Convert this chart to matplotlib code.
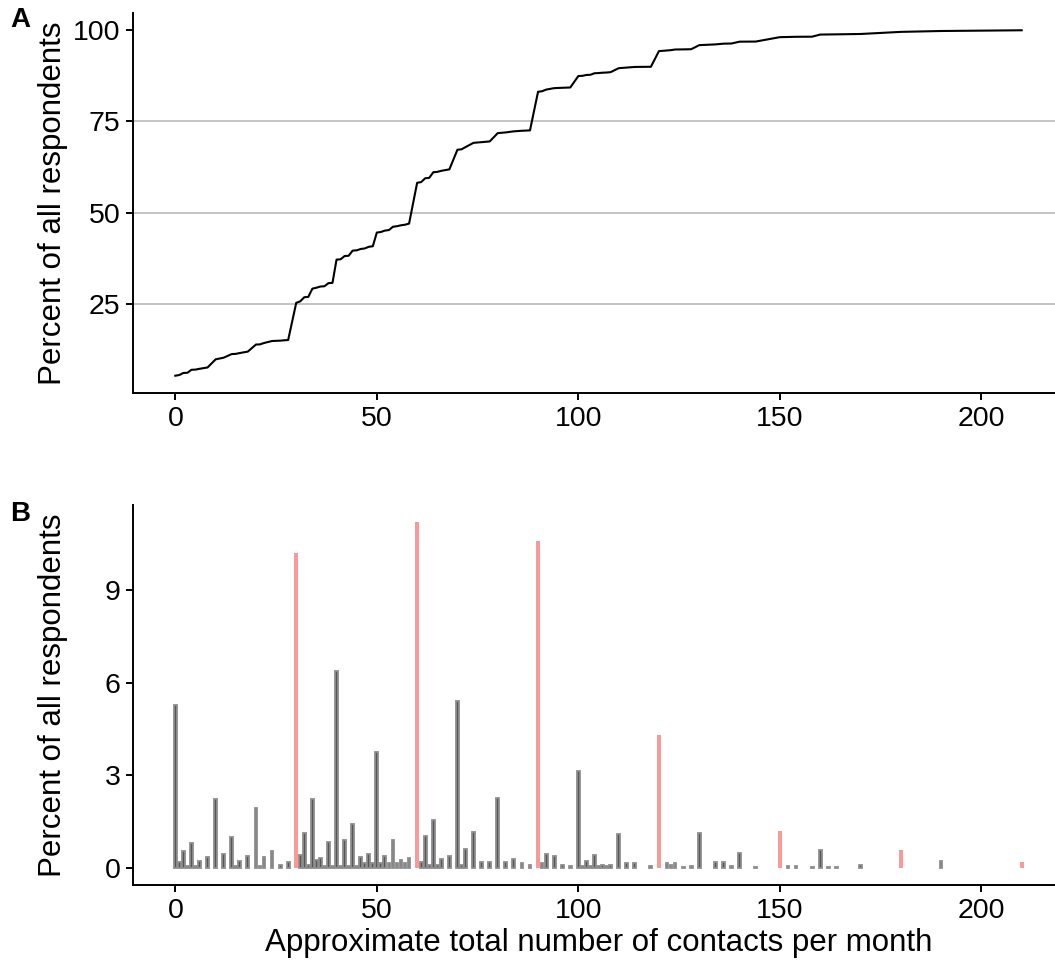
import numpy as np
import matplotlib
matplotlib.use('Agg')
import matplotlib.pyplot as plt

# data: percent of respondents for each approximate number of contacts per month
contacts = [0, 1, 2, 3, 4, 5, 6, 8, 10, 12, 14, 15, 16, 18, 20, 21, 22, 24, 26, 28,
            30, 31, 32, 33, 34, 35, 36, 37, 38, 39, 40, 41, 42, 43, 44, 45, 46, 47, 48, 49,
            50, 51, 52, 53, 54, 55, 56, 57, 58,
            60, 61, 62, 63, 64, 65, 66, 68, 70, 71, 72, 74, 76, 78, 80, 82, 84, 86, 88,
            90, 91, 92, 94, 96, 98, 100, 101, 102, 103, 104, 105, 106, 107, 108, 110, 112, 114, 118,
            120, 122, 123, 124, 126, 128, 130, 134, 136, 138, 140, 144,
            150, 152, 154, 158, 160, 162, 164, 170, 180, 190, 210]
percent = [5.27, 0.2, 0.56, 0.05, 0.82, 0.05, 0.22, 0.37, 2.23, 0.45, 1.0, 0.05, 0.23, 0.4, 1.93, 0.05, 0.37, 0.55, 0.1, 0.18,
           10.2, 0.42, 1.12, 0.1, 2.25, 0.26, 0.33, 0.08, 0.85, 0.08, 6.38, 0.08, 0.9, 0.08, 1.41, 0.08, 0.37, 0.15, 0.45, 0.15,
           3.76, 0.15, 0.39, 0.15, 0.9, 0.15, 0.26, 0.15, 0.31,
           11.2, 0.2, 1.05, 0.1, 1.55, 0.1, 0.29, 0.4, 5.4, 0.1, 0.61, 1.18, 0.18, 0.2, 2.28, 0.2, 0.29, 0.16, 0.1,
           10.6, 0.15, 0.45, 0.4, 0.1, 0.08, 3.15, 0.05, 0.24, 0.05, 0.42, 0.05, 0.1, 0.05, 0.1, 1.09, 0.17, 0.17, 0.05,
           4.3, 0.17, 0.1, 0.17, 0.03, 0.05, 1.12, 0.2, 0.2, 0.05, 0.5, 0.03,
           1.21, 0.05, 0.05, 0.03, 0.58, 0.03, 0.03, 0.1, 0.58, 0.24, 0.2]

contacts = np.array(contacts)
percent = np.array(percent)
percent = percent / percent.sum() * 100
cum_percent = np.cumsum(percent)

# multiples of 30 (one a day) are highlighted
is_month = (contacts % 30 == 0) & (contacts > 0)

plt.rcParams['font.family'] = ['Liberation Sans', 'DejaVu Sans']

W, H = 1055, 969
fig = plt.figure(figsize=(W / 100, H / 100), dpi=100)

def px_axes(left, top, right, bottom):
    return fig.add_axes([left / W, 1 - bottom / H, (right - left) / W, (bottom - top) / H])

def style(ax):
    for s in ['top', 'right']:
        ax.spines[s].set_visible(False)
    for s in ['left', 'bottom']:
        ax.spines[s].set_linewidth(1.4)
    ax.tick_params(axis='both', labelsize=20.5, length=5, width=1.4, pad=4, colors='black')
    ax.set_xlim(-10.5, 220.5)
    ax.set_xticks([0, 50, 100, 150, 200])

# panel A: cumulative
axA = px_axes(133, 13, 1064, 393)
style(axA)
for g in [25, 50, 75]:
    axA.axhline(g, color='#c4c4c4', lw=1.4, zorder=0)
axA.plot(contacts, cum_percent, color='black', lw=1.5)
ymin = cum_percent[0]
axA.set_ylim(ymin - (100 - ymin) * 0.05, 100 + (100 - ymin) * 0.05)
axA.set_yticks([25, 50, 75, 100])
axA.set_ylabel('Percent of all respondents', fontsize=22.5, va='center')
axA.yaxis.set_label_coords(-0.086, 0.5)

# panel B: distribution
axB = px_axes(133, 504.6, 1064, 885.3)
style(axB)
axB.bar(contacts[~is_month], percent[~is_month], width=0.7, color='#555555',
        edgecolor='#8e8e8e', linewidth=1.3)
axB.bar(contacts[is_month], percent[is_month], width=0.95, color='#fb9898', linewidth=0)
axB.set_ylim(-0.56, 11.76)
axB.set_yticks([0, 3, 6, 9])
axB.set_ylabel('Percent of all respondents', fontsize=22.5, va='center')
axB.yaxis.set_label_coords(-0.086, 0.5)
axB.set_xlabel('Approximate total number of contacts per month', fontsize=22.5, labelpad=3)

fig.text(10 / W, 1 - 20 / H, 'A', fontsize=20, fontweight='bold', va='center')
fig.text(10 / W, 1 - 514 / H, 'B', fontsize=20, fontweight='bold', va='center')

plt.savefig('out.png', dpi=100)
